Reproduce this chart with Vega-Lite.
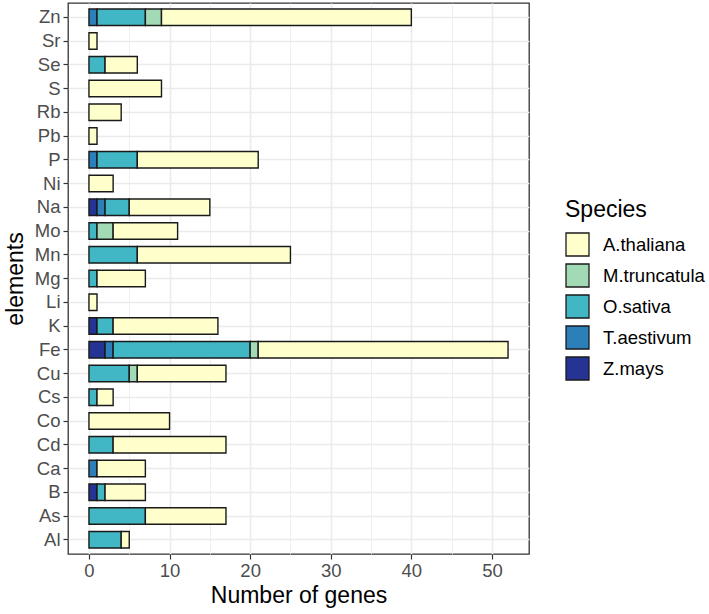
{
  "$schema": "https://vega.github.io/schema/vega-lite/v6.json",
  "width": 461,
  "height": 551,
  "padding": {"left": 4, "top": 3, "right": 5, "bottom": 5},
  "background": "white",
  "config": {
    "font": "Liberation Sans",
    "view": {"stroke": "#333333", "strokeWidth": 1.3}
  },
  "data": {
    "values": [
      {"element": "Zn", "species": "T.aestivum", "n": 1},
      {"element": "Zn", "species": "O.sativa", "n": 6},
      {"element": "Zn", "species": "M.truncatula", "n": 2},
      {"element": "Zn", "species": "A.thaliana", "n": 31},
      {"element": "Sr", "species": "A.thaliana", "n": 1},
      {"element": "Se", "species": "O.sativa", "n": 2},
      {"element": "Se", "species": "A.thaliana", "n": 4},
      {"element": "S", "species": "A.thaliana", "n": 9},
      {"element": "Rb", "species": "A.thaliana", "n": 4},
      {"element": "Pb", "species": "A.thaliana", "n": 1},
      {"element": "P", "species": "T.aestivum", "n": 1},
      {"element": "P", "species": "O.sativa", "n": 5},
      {"element": "P", "species": "A.thaliana", "n": 15},
      {"element": "Ni", "species": "A.thaliana", "n": 3},
      {"element": "Na", "species": "Z.mays", "n": 1},
      {"element": "Na", "species": "T.aestivum", "n": 1},
      {"element": "Na", "species": "O.sativa", "n": 3},
      {"element": "Na", "species": "A.thaliana", "n": 10},
      {"element": "Mo", "species": "O.sativa", "n": 1},
      {"element": "Mo", "species": "M.truncatula", "n": 2},
      {"element": "Mo", "species": "A.thaliana", "n": 8},
      {"element": "Mn", "species": "O.sativa", "n": 6},
      {"element": "Mn", "species": "A.thaliana", "n": 19},
      {"element": "Mg", "species": "O.sativa", "n": 1},
      {"element": "Mg", "species": "A.thaliana", "n": 6},
      {"element": "Li", "species": "A.thaliana", "n": 1},
      {"element": "K", "species": "Z.mays", "n": 1},
      {"element": "K", "species": "O.sativa", "n": 2},
      {"element": "K", "species": "A.thaliana", "n": 13},
      {"element": "Fe", "species": "Z.mays", "n": 2},
      {"element": "Fe", "species": "T.aestivum", "n": 1},
      {"element": "Fe", "species": "O.sativa", "n": 17},
      {"element": "Fe", "species": "M.truncatula", "n": 1},
      {"element": "Fe", "species": "A.thaliana", "n": 31},
      {"element": "Cu", "species": "O.sativa", "n": 5},
      {"element": "Cu", "species": "M.truncatula", "n": 1},
      {"element": "Cu", "species": "A.thaliana", "n": 11},
      {"element": "Cs", "species": "O.sativa", "n": 1},
      {"element": "Cs", "species": "A.thaliana", "n": 2},
      {"element": "Co", "species": "A.thaliana", "n": 10},
      {"element": "Cd", "species": "O.sativa", "n": 3},
      {"element": "Cd", "species": "A.thaliana", "n": 14},
      {"element": "Ca", "species": "T.aestivum", "n": 1},
      {"element": "Ca", "species": "A.thaliana", "n": 6},
      {"element": "B", "species": "Z.mays", "n": 1},
      {"element": "B", "species": "O.sativa", "n": 1},
      {"element": "B", "species": "A.thaliana", "n": 5},
      {"element": "As", "species": "O.sativa", "n": 7},
      {"element": "As", "species": "A.thaliana", "n": 10},
      {"element": "Al", "species": "O.sativa", "n": 4},
      {"element": "Al", "species": "A.thaliana", "n": 1}
    ]
  },
  "mark": {"type": "bar", "stroke": "#1a1a1a", "strokeWidth": 1.4},
  "encoding": {
    "y": {
      "field": "element",
      "type": "nominal",
      "sort": "descending",
      "scale": {"paddingInner": 0.3, "paddingOuter": 0.25},
      "axis": {
        "title": "elements",
        "titleFontSize": 23,
        "titleFontWeight": "normal",
        "titleColor": "black",
        "titlePadding": 7,
        "labelFontSize": 18.5,
        "labelColor": "#4D4D4D",
        "labelPadding": 3,
        "tickColor": "#333333",
        "tickSize": 5,
        "tickWidth": 1.2,
        "domain": false,
        "grid": true,
        "gridColor": "#EBEBEB",
        "gridWidth": 1.6
      }
    },
    "x": {
      "field": "n",
      "type": "quantitative",
      "stack": "zero",
      "scale": {"domain": [-2.6, 54.6], "nice": false, "zero": false},
      "axis": {
        "title": "Number of genes",
        "titleFontSize": 23,
        "titleFontWeight": "normal",
        "titleColor": "black",
        "titlePadding": 5,
        "values": [0, 5, 10, 15, 20, 25, 30, 35, 40, 45, 50],
        "labelExpr": "datum.value % 10 == 0 ? datum.label : ''",
        "labelFontSize": 18.5,
        "labelColor": "#4D4D4D",
        "labelPadding": 2,
        "tickSize": 5,
        "tickWidth": 1.2,
        "tickColor": {"condition": {"test": "datum.value % 10 == 0", "value": "#333333"}, "value": "transparent"},
        "domain": false,
        "grid": true,
        "gridColor": "#EBEBEB",
        "gridWidth": {"condition": {"test": "datum.value % 10 == 0", "value": 1.6}, "value": 0.8}
      }
    },
    "color": {
      "field": "species",
      "type": "nominal",
      "scale": {
        "domain": ["A.thaliana", "M.truncatula", "O.sativa", "T.aestivum", "Z.mays"],
        "range": ["#FFFFCC", "#A1DAB4", "#41B6C4", "#2C7FB8", "#253494"]
      },
      "legend": {
        "title": "Species",
        "titleFontSize": 23,
        "titleFontWeight": "normal",
        "titleColor": "black",
        "titlePadding": 10,
        "labelFontSize": 18.5,
        "labelColor": "black",
        "symbolType": "square",
        "symbolSize": 529,
        "symbolStrokeColor": "#1a1a1a",
        "symbolStrokeWidth": 1.3,
        "symbolOpacity": 1,
        "rowPadding": 2,
        "labelOffset": 13,
        "orient": "none",
        "legendX": 497,
        "legendY": 196
      }
    },
    "order": {"field": "species", "sort": "descending"}
  }
}
